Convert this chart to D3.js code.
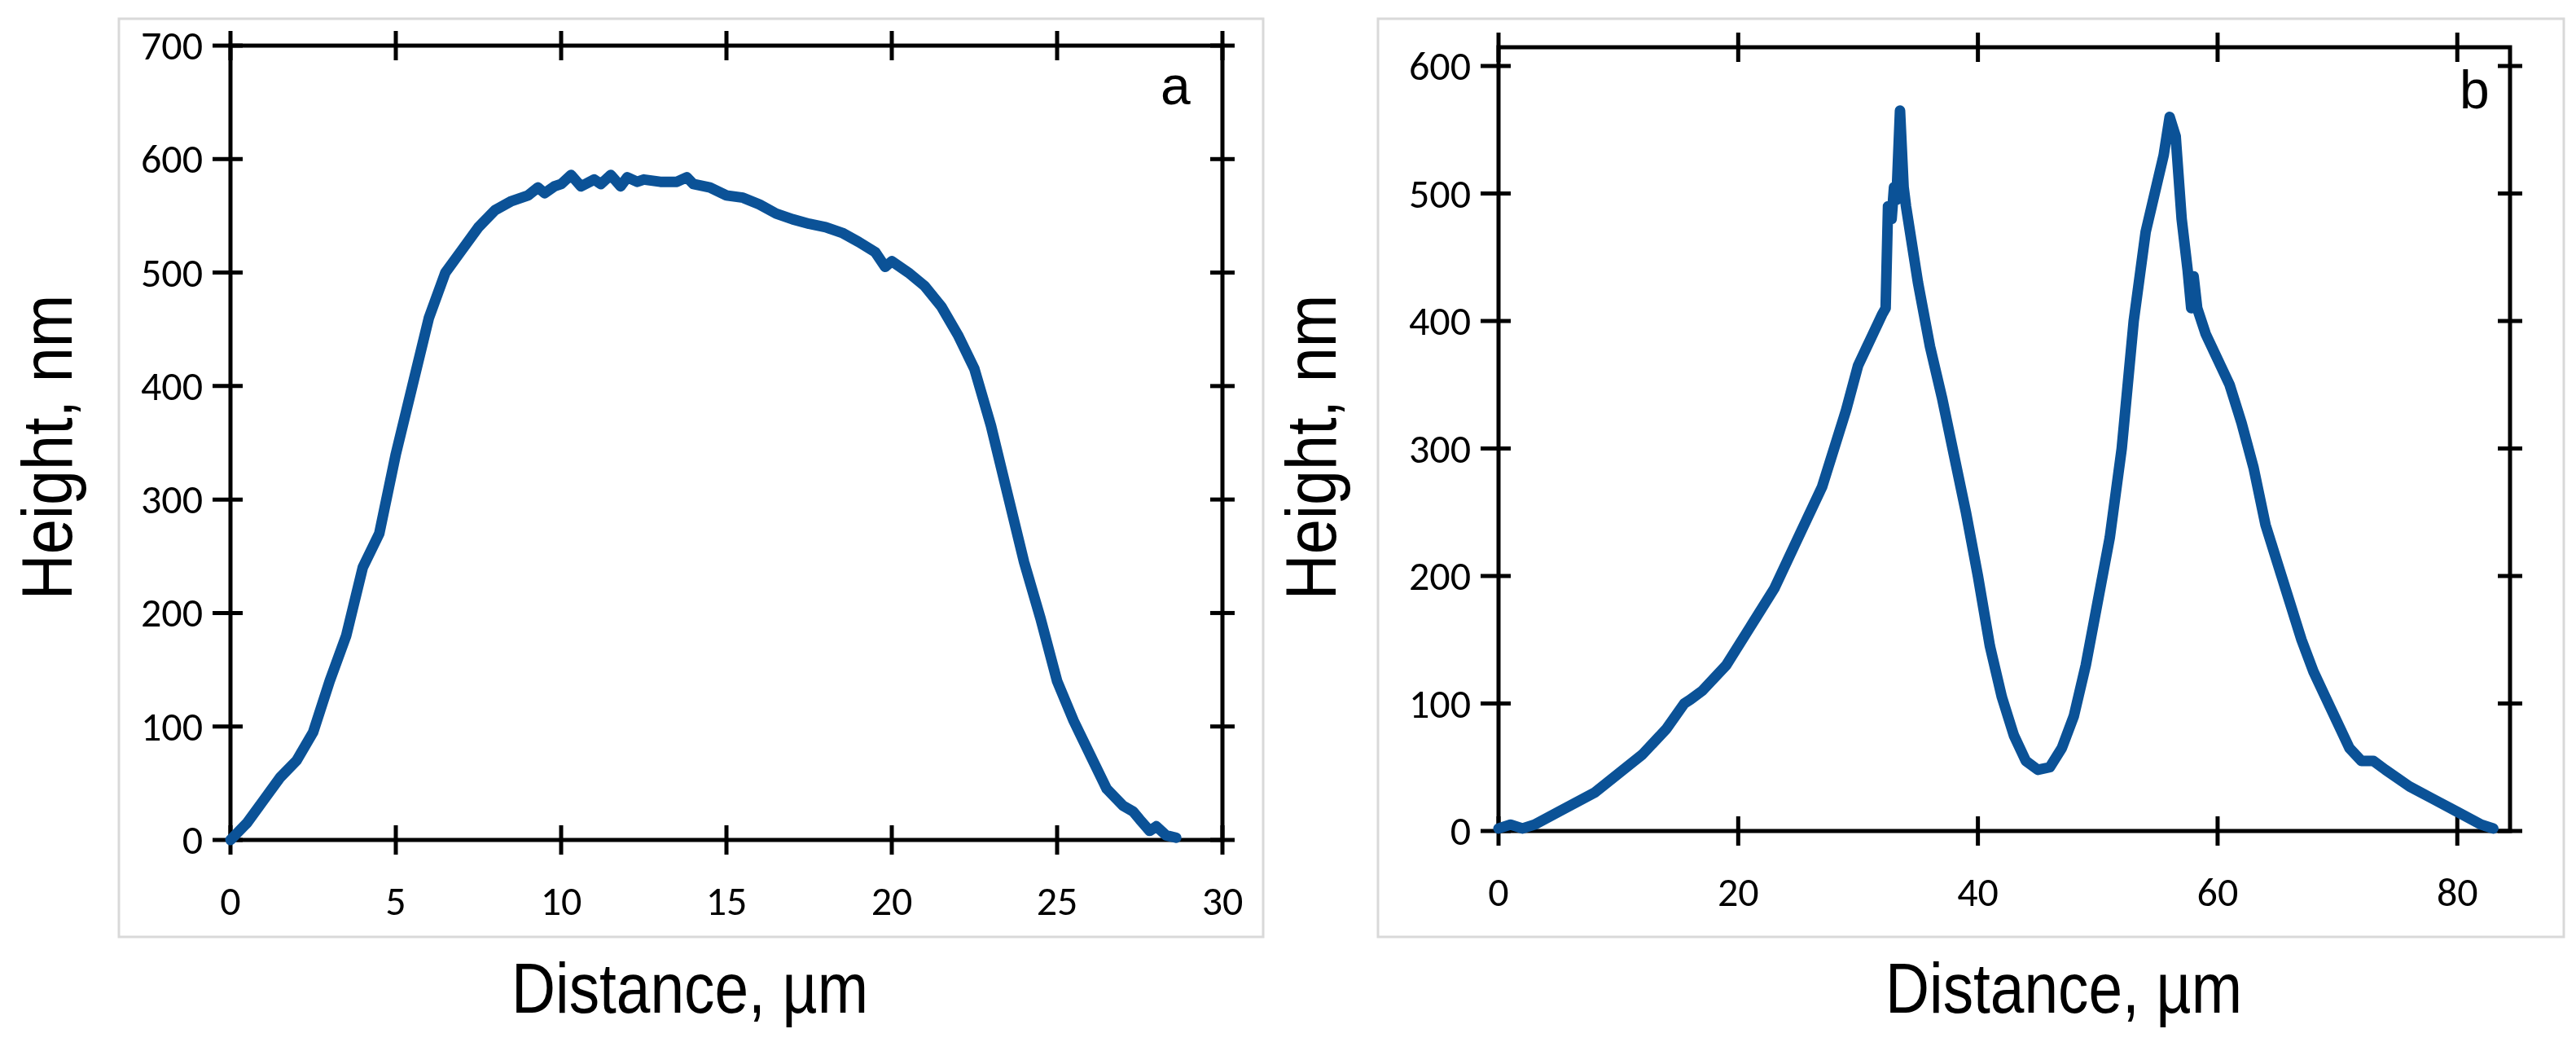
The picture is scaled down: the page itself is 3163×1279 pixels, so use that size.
<!doctype html>
<html>
<head>
<script src="https://d3js.org/d3.v7.min.js"></script>
<style>
  body { margin: 0; background: #fff; }
</style>
</head>
<body>
<svg width="3163" height="1279" id="chart"></svg>
<script>
// panel a profile: distance (µm), height (nm)
var distA = [0,0.5,1,1.5,2,2.5,3,3.5,4,4.5,5,5.5,6,6.5,7,7.5,8,8.5,9,9.3,9.5,9.8,10,10.3,10.6,11,11.2,11.5,11.8,12,12.3,12.5,13,13.5,13.8,14,14.5,15,15.5,16,16.5,17,17.5,18,18.5,19,19.5,19.8,20,20.5,21,21.5,22,22.5,23,23.5,24,24.5,25,25.5,26,26.5,27,27.3,27.5,27.8,28,28.3,28.6];
var heightA = [0,15,35,55,70,95,140,180,240,270,340,400,460,500,520,540,555,563,568,575,570,576,578,586,576,582,578,586,576,584,580,582,580,580,584,578,575,568,566,560,552,547,543,540,535,527,518,505,510,500,488,470,445,415,365,305,245,195,140,105,75,45,30,25,18,8,12,4,2];
// panel b profile
var distB = [0,1,2,3,5,8,10,12,14,15.5,16,17,19,21,23,25,27,29,30,31,32,32.3,32.5,32.8,33,33.2,33.5,33.8,34,35,36,37,38,39,40,41,42,43,44,45,46,47,48,49,50,51,52,53,54,55,55.5,56,56.5,57,57.5,57.8,58,58.3,59,60,61,62,63,64,65,66,67,68,69,70,71,72,73,74,76,78,80,82,83];
var heightB = [2,5,2,5,15,30,45,60,80,100,103,110,130,160,190,230,270,330,365,385,405,410,490,480,505,495,565,505,490,430,380,340,295,250,200,145,105,75,55,48,50,65,90,130,180,230,300,400,470,510,530,560,545,480,440,410,435,410,390,370,350,320,285,240,210,180,150,125,105,85,65,55,55,48,35,25,15,5,2];

var ticksAx = [0,5,10,15,20,25,30], ticksAy = [0,100,200,300,400,500,600,700];
var ticksBx = [0,20,40,60,80], ticksBy = [0,100,200,300,400,500,600];

var svg = d3.select("#chart");
var tickFont = "Carlito, 'Open Sans', sans-serif";
var titleFont = "'Liberation Sans', Arial, sans-serif";

function panel(o) {
  var x = d3.scaleLinear().domain(o.xd).range([o.x0, o.x1]);
  var y = d3.scaleLinear().domain(o.yd).range([o.y0, o.y1]);

  svg.append("rect").attr("x", o.box[0]).attr("y", o.box[1])
     .attr("width", o.box[2]).attr("height", o.box[3])
     .attr("fill", "none").attr("stroke", "#d9d9d9").attr("stroke-width", 3);

  var g = svg.append("g").attr("stroke", "#000").attr("stroke-width", 5).attr("fill", "none");
  // frame
  g.append("rect").attr("x", o.x0).attr("y", o.y1)
   .attr("width", o.x1 - o.x0).attr("height", o.y0 - o.y1);
  // cross ticks on every side
  o.xt.forEach(function(t) {
    g.append("line").attr("x1", x(t)).attr("x2", x(t)).attr("y1", o.y0 - 18).attr("y2", o.y0 + 18);
    g.append("line").attr("x1", x(t)).attr("x2", x(t)).attr("y1", o.y1 - 18).attr("y2", o.y1 + 18);
  });
  o.yt.forEach(function(t) {
    g.append("line").attr("y1", y(t)).attr("y2", y(t)).attr("x1", o.x0 - 22).attr("x2", o.x0 + 15);
    g.append("line").attr("y1", y(t)).attr("y2", y(t)).attr("x1", o.x1 - 15).attr("x2", o.x1 + 15);
  });

  svg.selectAll(null).data(o.xt).enter().append("text")
     .attr("x", function(d) { return x(d); }).attr("y", o.y0 + 92)
     .attr("text-anchor", "middle").attr("font-family", tickFont).attr("font-size", 50)
     .text(function(d) { return d; });
  svg.selectAll(null).data(o.yt).enter().append("text")
     .attr("x", o.x0 - 34).attr("y", function(d) { return y(d) + 17; })
     .attr("text-anchor", "end").attr("font-family", tickFont).attr("font-size", 50)
     .text(function(d) { return d; });

  svg.append("path")
     .datum(d3.zip(o.xs, o.ys))
     .attr("fill", "none").attr("stroke", "#0b5297").attr("stroke-width", 13)
     .attr("stroke-linejoin", "round").attr("stroke-linecap", "round")
     .attr("d", d3.line().x(function(d) { return x(d[0]); }).y(function(d) { return y(d[1]); }));

  svg.append("text").attr("x", o.lx).attr("y", o.ly)
     .attr("font-family", titleFont).attr("font-size", 66)
     .text(o.label);
  svg.append("text").attr("transform", "translate(" + o.tx + ",1243) scale(0.85,1)")
     .attr("text-anchor", "middle").attr("font-family", titleFont).attr("font-size", 88)
     .text("Distance, µm");
  svg.append("text").attr("transform", "translate(" + o.yx + ",549) rotate(-90) scale(0.88,1)")
     .attr("text-anchor", "middle").attr("font-family", titleFont).attr("font-size", 88)
     .text("Height, nm");
}

panel({xd: [0, 30], yd: [0, 700], x0: 283, x1: 1501, y0: 1031, y1: 56,
       box: [146, 23, 1405, 1127], xt: ticksAx, yt: ticksAy, xs: distA, ys: heightA,
       label: "a", lx: 1425, ly: 128, tx: 847, yx: 88});
panel({xd: [0, 84.4], yd: [0, 614.7], x0: 1840, x1: 3082, y0: 1020, y1: 58,
       box: [1692, 23, 1456, 1127], xt: ticksBx, yt: ticksBy, xs: distB, ys: heightB,
       label: "b", lx: 3020, ly: 133, tx: 2534, yx: 1640});
</script>
</body>
</html>
